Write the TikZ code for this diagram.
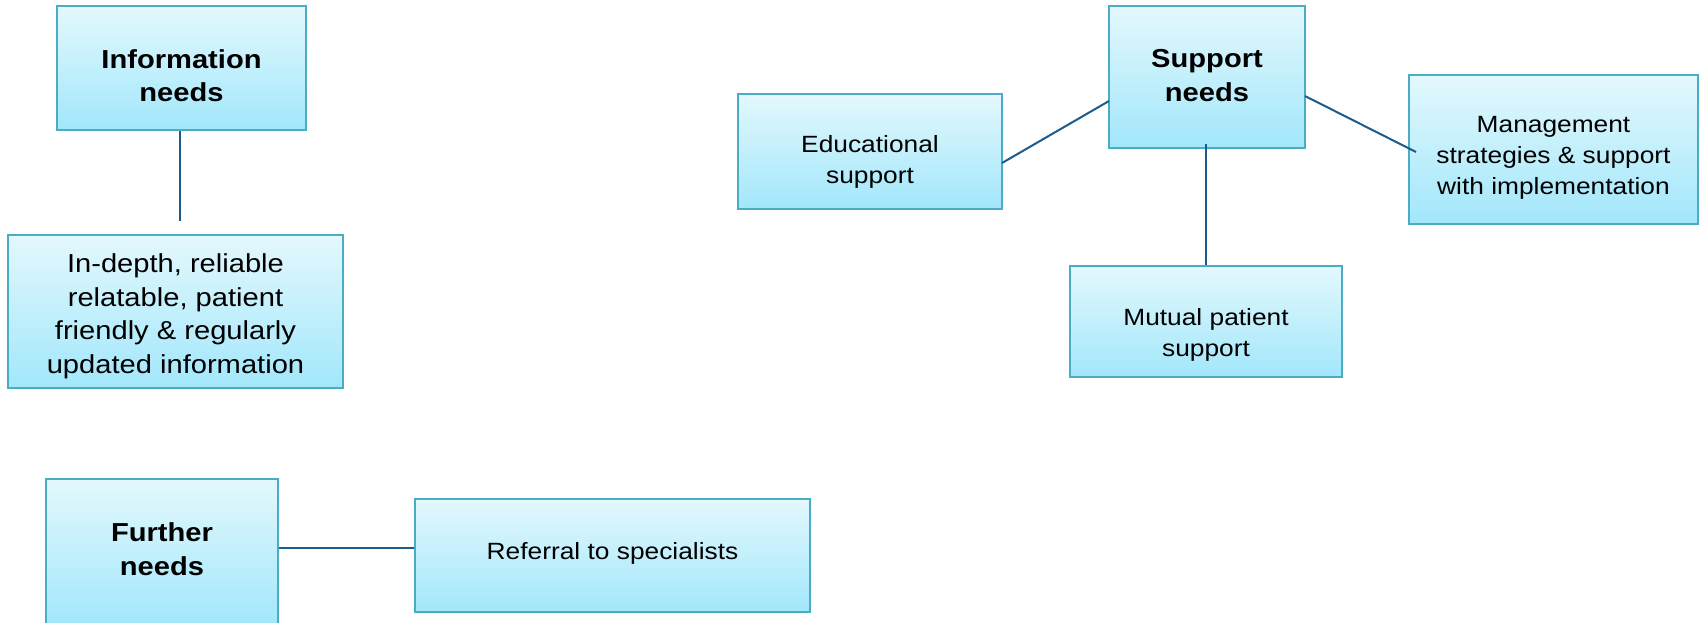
\documentclass[tikz,border=0pt]{standalone}
\usepackage{fontspec}
\setmainfont{Liberation Sans}[FakeStretch=1.12]
\usepackage{xcolor}
\usetikzlibrary{calc}
\definecolor{boxline}{HTML}{4BACC6}
\definecolor{boxtop}{HTML}{E3F8FD}
\definecolor{boxbot}{HTML}{A2E7FB}
\definecolor{linkline}{HTML}{1C5C8C}

\begin{document}
\begin{tikzpicture}[x=1pt, y=-1pt,
  needbox/.style={draw=boxline, line width=2.2pt, top color=boxtop, bottom color=boxbot, inner sep=0pt},
  headtext/.style={align=center, inner sep=0pt, font=\fontsize{26}{33.5}\selectfont\bfseries},
  bigtext/.style={align=center, inner sep=0pt, font=\fontsize{26}{33.5}\selectfont},
  needtext/.style={align=center, inner sep=0pt, font=\fontsize{23.5}{31}\selectfont},
  link/.style={draw=linkline, line width=2pt}]
  \useasboundingbox (0,0) rectangle (1701,622);
  % boxes
  \node[needbox, minimum width=249pt, minimum height=124pt] (info) at (181.5,68) {};
  \node[needbox, minimum width=335pt, minimum height=153pt] (indepth) at (175.5,311.5) {};
  \node[needbox, minimum width=196pt, minimum height=142pt] (support) at (1207,77) {};
  \node[needbox, minimum width=264pt, minimum height=115pt] (edu) at (870,151.5) {};
  \node[needbox, minimum width=289pt, minimum height=149pt] (mgmt) at (1553.5,149.5) {};
  \node[needbox, minimum width=272pt, minimum height=111pt] (mutual) at (1206,321.5) {};
  \node[needbox, minimum width=232pt, minimum height=146pt] (further) at (162,552) {};
  \node[needbox, minimum width=395pt, minimum height=113pt] (referral) at (612.5,555.5) {};
  % texts
  \node[headtext] (infotext) at (181.5,75.5) {Information\\needs};
  \node[bigtext] (indepthtext) at (175.5,316.3) {In-depth, reliable\\relatable, patient\\friendly \& regularly\\updated information};
  \node[headtext] (supporttext) at (1207,75.5) {Support\\needs};
  \node[needtext] (edutext) at (870,162.4) {Educational\\support};
  \node[needtext] (mgmttext) at (1553.5,157.9) {Management\\strategies \& support\\with implementation};
  \node[needtext] (mutualtext) at (1206,334.9) {Mutual patient\\support};
  \node[headtext] (furthertext) at (162,549) {Further\\needs};
  \node[needtext] (referraltext) at (612.5,553.5) {Referral to specialists};
  % links
  \coordinate (infoend) at (180,221);
  \coordinate (supleft) at (1109,101);
  \coordinate (supright) at (1305,96);
  \coordinate (supbot) at (1206,144);
  \coordinate (mgmtend) at (1416,152);
  \coordinate (eduend) at (1002,163);
  \draw[link] (info.south -| infoend) -- (infoend);
  \draw[link] (eduend) -- (supleft);
  \draw[link] (supright) -- (mgmtend);
  \draw[link] (supbot) -- (supbot |- mutual.north);
  \draw[link] (further.east |- 0,548) -- (referral.west |- 0,548);
\end{tikzpicture}
\end{document}
